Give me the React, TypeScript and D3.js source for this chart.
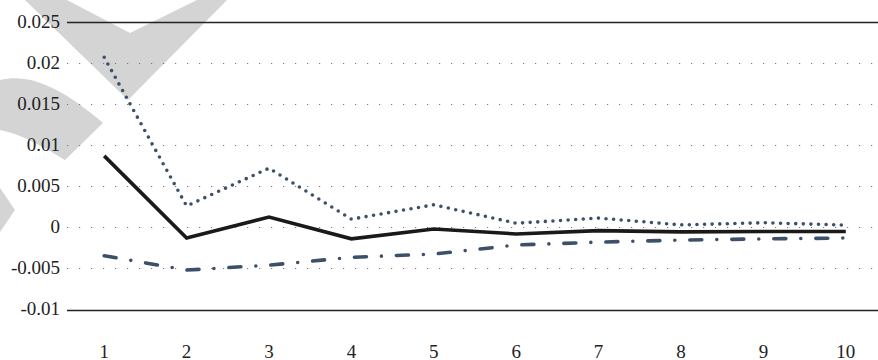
import React from "react";
import * as d3 from "d3";

// Horizon steps on the x axis
const periods = ["1", "2", "3", "4", "5", "6", "7", "8", "9", "10"];

// Point estimate (solid) and the two bands (dotted upper, dash-dot lower)
const estimate = [0.0087, -0.0013, 0.00125, -0.0014, -0.0002, -0.0008, -0.0004, -0.00055, -0.0005, -0.0005];
const upperBand = [0.0207, 0.0026, 0.0072, 0.001, 0.00275, 0.0005, 0.00113, 0.0003, 0.00056, 0.00028];
const lowerBand = [-0.00345, -0.0052, -0.0046, -0.00365, -0.00325, -0.00215, -0.0018, -0.00155, -0.0014, -0.0013];

// Value-axis ticks and their printed labels
const yTicks = [0.025, 0.02, 0.015, 0.01, 0.005, 0, -0.005, -0.01];
const yTickLabels = ["0.025", "0.02", "0.015", "0.01", "0.005", "0", "-0.005", "-0.01"];

const W = 878;
const H = 360;
const plotLeft = 67;
const plotRight = 878;
const serif = "Liberation Serif";
const slate = "#3c506a";

export default function App() {
  const x = d3.scaleBand<string>().domain(periods).range([63, 887]);
  const y = d3.scaleLinear().domain([-0.01, 0.025]).range([309.5, 22]);
  const cx = (i: number) => (x(periods[i]) ?? 0) + x.bandwidth() / 2;

  const line = d3
    .line<number>()
    .x((_, i) => cx(i))
    .y((v) => y(v));

  return (
    <svg
      width={W}
      height={H}
      style={{ position: "absolute", left: 0, top: 0, background: "#fff", fontFamily: serif }}
    >
      {/* publisher mark behind the plot */}
      <g fill="#d4d4d4">
        <path d="M25,0 L128,100 L227,0 L197,0 L130,33 L67,0 Z" />
        <path d="M0,80 C30,73 62,88 103,123 L65,160 C45,148 22,134 0,130 Z" />
        <path d="M0,188 L15,210 L0,232 Z" />
      </g>

      {/* horizontal grid */}
      {yTicks.map((t, i) => {
        const yy = Math.round(y(t)) + 0.5;
        const solid = i === 0 || i === yTicks.length - 1;
        return (
          <line
            key={t}
            x1={plotLeft}
            x2={plotRight}
            y1={yy}
            y2={yy}
            stroke={solid ? "#222" : "#777"}
            strokeWidth={solid ? 1.6 : 1.2}
            strokeDasharray={solid ? undefined : "1.2 10.8"}
          />
        );
      })}

      {/* value-axis labels */}
      <g style={{ fontFamily: serif, fontSize: 19 }} fill="#222">
        {yTicks.map((t, i) => (
          <text key={t} x={60} y={y(t) + 5.5} textAnchor="end">
            {yTickLabels[i]}
          </text>
        ))}
      </g>

      {/* period labels */}
      <g style={{ fontFamily: serif, fontSize: 19 }} fill="#222">
        {periods.map((p, i) => (
          <text key={p} x={cx(i)} y={357.5} textAnchor="middle">
            {p}
          </text>
        ))}
      </g>

      {/* lower band */}
      <path
        d={line(lowerBand) ?? ""}
        fill="none"
        stroke={slate}
        strokeWidth={3.6}
        strokeLinecap="round"
        strokeDasharray="12 15 0 15"
      />

      {/* upper band */}
      <path
        d={line(upperBand) ?? ""}
        fill="none"
        stroke={slate}
        strokeWidth={3.6}
        strokeLinecap="round"
        strokeDasharray="0 7.6"
      />

      {/* point estimate */}
      <path
        d={line(estimate) ?? ""}
        fill="none"
        stroke="#1a1a1a"
        strokeWidth={3.6}
        strokeLinejoin="miter"
      />
    </svg>
  );
}
